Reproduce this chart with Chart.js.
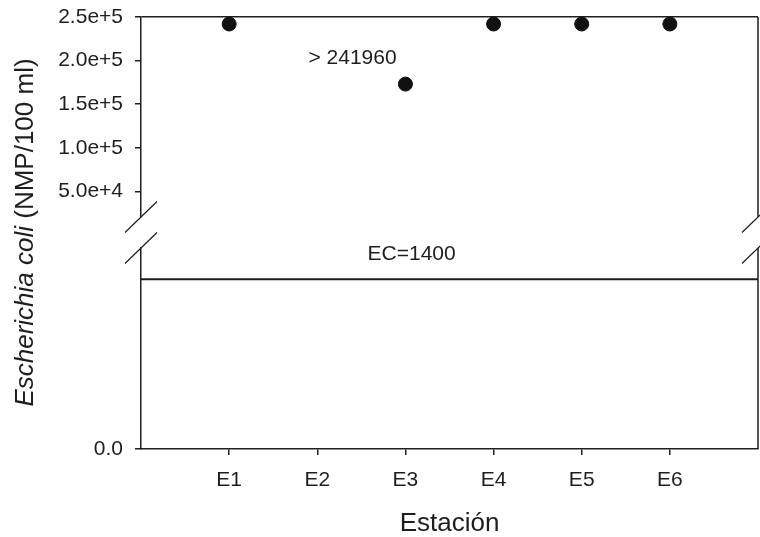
<!DOCTYPE html>
<html>
<head>
<meta charset="utf-8">
<script src="https://cdn.jsdelivr.net/npm/chart.js@4.4.1/dist/chart.umd.min.js"></script>
<style>
  html, body { margin: 0; padding: 0; background: #ffffff; }
  #wrap { width: 760px; height: 537px; }
</style>
</head>
<body>
<div id="wrap"><canvas id="c" width="760" height="537"></canvas></div>
<script>
// ---- data ----
const stations = ['E1', 'E2', 'E3', 'E4', 'E5', 'E6'];
const ecoli = [241960, null, 173000, 241960, 241960, 241960];
const topTicks = [50000, 100000, 150000, 200000, 250000];
const bottomTicks = [0];
const limitValue = 1400;
const limitLabel = 'EC=1400';
const capLabel = '> 241960';
const capLabelAt = { x: 2.4, y: 202500 };

const FONT = "'Liberation Sans', Arial, sans-serif";
const INK = '#1e1e1e';

const pointData = [];
stations.forEach((s, i) => { if (ecoli[i] !== null) pointData.push({ x: i + 1, y: ecoli[i] }); });

const decorPlugin = {
  id: 'decor',
  afterDraw(chart) {
    const ctx = chart.ctx;
    const { left, right, top, bottom } = chart.chartArea;
    const yTop = chart.scales.yTop, yBot = chart.scales.yBot, xs = chart.scales.x;
    const gapTop = yTop.bottom, gapBot = yBot.top;
    ctx.save();
    ctx.strokeStyle = INK;
    ctx.lineWidth = 1.5;
    ctx.beginPath();
    ctx.moveTo(right, top); ctx.lineTo(right, gapTop);
    ctx.moveTo(right, gapBot); ctx.lineTo(right, bottom);
    ctx.stroke();
    ctx.lineWidth = 1.2;
    ctx.beginPath();
    for (const x of [left, right]) {
      for (const y of [gapTop, gapBot]) {
        ctx.moveTo(x - 16, y + 15.5);
        ctx.lineTo(x + 16, y - 15.5);
      }
    }
    ctx.stroke();

    ctx.fillStyle = INK;
    ctx.font = '21px ' + FONT;
    ctx.textAlign = 'center';
    ctx.textBaseline = 'middle';
    ctx.fillText(limitLabel, xs.getPixelForValue(3.07), yBot.getPixelForValue(limitValue) - 25);
    ctx.fillText(capLabel, xs.getPixelForValue(capLabelAt.x), yTop.getPixelForValue(capLabelAt.y));

    // y axis title with italic species name
    const p1 = 'Escherichia coli', p2 = ' (NMP/100 ml)';
    const f1 = 'italic 26px ' + FONT, f2 = '26px ' + FONT;
    ctx.font = f1; const w1 = ctx.measureText(p1).width;
    ctx.font = f2; const w2 = ctx.measureText(p2).width;
    const cy = (top + bottom) / 2 - 0.5;
    ctx.translate(26, cy);
    ctx.rotate(-Math.PI / 2);
    ctx.textAlign = 'left';
    const sx = -(w1 + w2) / 2;
    ctx.font = f1; ctx.fillText(p1, sx, 0);
    ctx.font = f2; ctx.fillText(p2, sx + w1, 0);
    ctx.restore();
  }
};

const yCommon = {
  type: 'linear',
  position: 'left',
  stack: 'ys',
  afterFit(scale) { scale.width = 141; scale.paddingTop = 0; scale.paddingBottom = 0; }
};

new Chart(document.getElementById('c'), {
  type: 'scatter',
  data: {
    datasets: [
      {
        label: 'E. coli',
        data: pointData,
        xAxisID: 'x',
        yAxisID: 'yTop',
        backgroundColor: '#111',
        borderColor: '#111',
        pointRadius: 7,
        pointHoverRadius: 7,
        clip: false
      },
      {
        type: 'line',
        label: 'EC',
        data: [{ x: 0, y: limitValue }, { x: 7, y: limitValue }],
        xAxisID: 'x',
        yAxisID: 'yBot',
        borderColor: INK,
        borderWidth: 2,
        pointRadius: 0,
        fill: false
      }
    ]
  },
  options: {
    responsive: false,
    animation: false,
    events: [],
    layout: { autoPadding: false, padding: { top: 17, right: 2, left: 0, bottom: 0 } },
    plugins: { legend: { display: false }, tooltip: { enabled: false } },
    scales: {
      x: {
        type: 'linear',
        position: 'bottom',
        min: 0,
        max: 7,
        afterBuildTicks(scale) { scale.ticks = stations.map((s, i) => ({ value: i + 1 })); },
        afterFit(scale) { scale.height = 88; scale.paddingLeft = 0; scale.paddingRight = 0; },
        ticks: {
          color: INK,
          font: { family: FONT, size: 21 },
          padding: 13,
          autoSkip: false,
          maxRotation: 0,
          callback: (v) => stations[v - 1]
        },
        grid: { drawOnChartArea: false, drawTicks: true, tickLength: 6, color: INK, lineWidth: 1.5 },
        border: { color: INK, width: 1.5 },
        title: {
          display: true,
          text: 'Estación',
          color: INK,
          font: { family: FONT, size: 26, lineHeight: 1 },
          padding: 0
        }
      },
      yTop: Object.assign({}, yCommon, {
        weight: 3,
        stackWeight: 200,
        min: 20500,
        max: 250000,
        afterBuildTicks(scale) { scale.ticks = topTicks.map(v => ({ value: v })); },
        ticks: {
          color: INK,
          font: { family: FONT, size: 21 },
          padding: 12,
          callback: (v) => Number(v).toExponential(1)
        },
        grid: {
          drawTicks: true,
          tickLength: 6,
          lineWidth: 1.5,
          tickColor: INK,
          color: (c) => (c.tick && c.tick.value === topTicks[topTicks.length - 1]) ? INK : 'rgba(0,0,0,0)'
        },
        border: { color: INK, width: 1.5 }
      }),
      yGap: Object.assign({}, yCommon, {
        weight: 2,
        stackWeight: 31,
        min: 0,
        max: 1,
        ticks: { display: false },
        grid: { display: false },
        border: { display: false }
      }),
      yBot: Object.assign({}, yCommon, {
        weight: 1,
        stackWeight: 201,
        min: 0,
        max: 1658,
        afterBuildTicks(scale) { scale.ticks = bottomTicks.map(v => ({ value: v })); },
        ticks: {
          color: INK,
          font: { family: FONT, size: 21 },
          padding: 12,
          callback: (v) => Number(v).toFixed(1)
        },
        grid: { drawOnChartArea: false, drawTicks: true, tickLength: 6, color: INK, lineWidth: 1.5 },
        border: { color: INK, width: 1.5 }
      })
    }
  },
  plugins: [decorPlugin]
});
</script>
</body>
</html>
